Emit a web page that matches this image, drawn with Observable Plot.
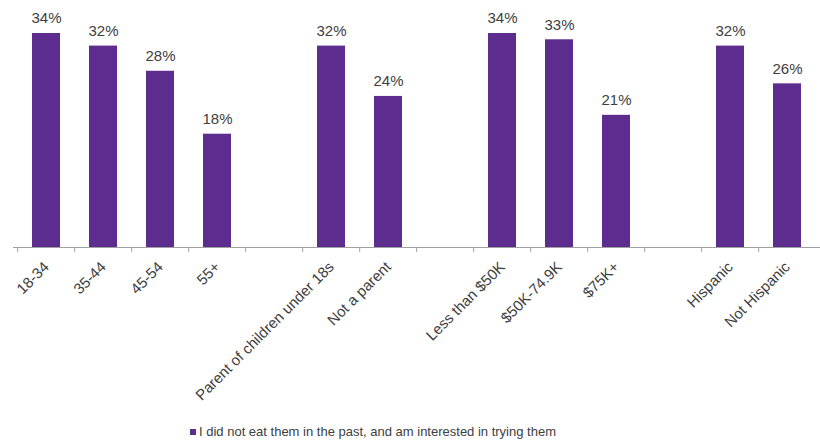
<!DOCTYPE html>
<html>
<head>
<meta charset="utf-8">
<script src="https://cdn.jsdelivr.net/npm/d3@7"></script>
<script src="https://cdn.jsdelivr.net/npm/@observablehq/plot@0.6"></script>
<style>
  body { margin: 0; background: #fff; font-family: "Liberation Sans", Arial, sans-serif; }
  #legend { height: 24px; line-height: 24px; font-size: 13px; color: #404040; padding-left: 190px; white-space: nowrap; }
  #legend .sw { display: inline-block; width: 6px; height: 6px; background: #5c2d8f; margin-right: 3px; vertical-align: 1px; }
</style>
</head>
<body>
<div id="chart"></div>
<div id="legend"><span class="sw"></span>I did not eat them in the past, and am interested in trying them</div>
<script>
const categories = ["18-34", "35-44", "45-54", "55+", "gap1", "Parent of children under 18s", "Not a parent", "gap2", "Less than $50K", "$50K-74.9K", "$75K+", "gap3", "Hispanic", "Not Hispanic"];
const barCategories = ["18-34", "35-44", "45-54", "55+", "Parent of children under 18s", "Not a parent", "Less than $50K", "$50K-74.9K", "$75K+", "Hispanic", "Not Hispanic"];
const values = [34, 32, 28, 18, 32, 24, 34, 33, 21, 32, 26];
const seriesName = "I did not eat them in the past, and am interested in trying them";

const data = barCategories.map((c, i) => ({category: c, value: values[i]}));

const W = 820, H = 420, mL = 13, mR = 0;
const step = (W - mL - mR) / categories.length;
const purple = "#5c2d8f";
const textGray = "#404040";
const axisGray = "#a0a0a0";

const chart = Plot.plot({
  width: W,
  height: H,
  marginTop: 33,
  marginBottom: 173,
  marginLeft: mL,
  marginRight: mR,
  style: {fontFamily: "'Liberation Sans', Arial, sans-serif", background: "#fff"},
  x: {domain: categories, paddingInner: 0.51, paddingOuter: 0.255, label: null},
  y: {domain: [0, 34], axis: null},
  marks: [
    Plot.barY(data, {x: "category", y: "value", fill: purple}),
    Plot.ruleY([0], {stroke: axisGray, strokeWidth: 1}),
    Plot.ruleX(categories, {x: d => d, y1: 0, y2: 0, insetBottom: -5, dx: -step / 2, stroke: axisGray, strokeWidth: 1}),
    Plot.axisX({tickSize: 0, tickPadding: 17, tickRotate: -45, fontSize: 15, fill: textGray,
      tickFormat: d => d.startsWith("gap") ? "" : d}),
    Plot.text(data, {x: "category", y: "value", text: d => d.value + "%", dy: -15, fontSize: 15, fill: textGray})
  ]
});
document.getElementById("chart").appendChild(chart);
</script>
</body>
</html>
